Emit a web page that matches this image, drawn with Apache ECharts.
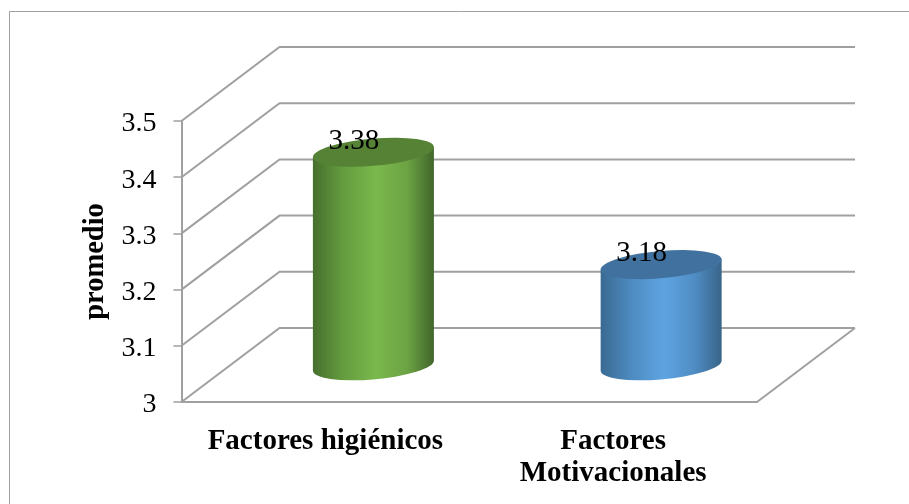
<!DOCTYPE html>
<html>
<head>
<meta charset="utf-8">
<style>html,body{margin:0;padding:0;background:#fff}#chart{width:909px;height:504px}</style>
<script src="https://cdn.jsdelivr.net/npm/echarts@6/dist/echarts.min.js"></script>
</head>
<body>
<div id="chart"></div>
<script>
// Chart values
const categories = ['Factores higiénicos', 'Factores\nMotivacionales'];
const averages = [3.38, 3.18];
const tickValues = [3, 3.1, 3.2, 3.3, 3.4, 3.5];
const axisTitle = 'promedio';

// Oblique projection of the 3D box (screen offset of the back wall)
const DEPTH_X = 98;
const DEPTH_Y = -74;
const GRID_COLOR = '#a0a0a0';
const SERIF = '"Liberation Serif", "Times New Roman", serif';

// Column look: side gradient stops and flat top colour
const columnLooks = [
  { top: '#558235', edge1: '#466f2d', mid1: '#649c3e', mid2: '#7ab84c', mid3: '#6ca344', edge2: '#41652a' },
  { top: '#41729f', edge1: '#396a92', mid1: '#4d8abf', mid2: '#5ea4e2', mid3: '#4f8cc3', edge2: '#386488' }
];

// Back wall and side wall rules, one per tick
function renderWall(params, api) {
  const cs = params.coordSys;
  const y = api.coord([0, api.value(1)])[1];
  const x0 = cs.x, x1 = cs.x + cs.width;
  const children = [{
    type: 'polyline',
    shape: { points: [[x0, y], [x0 + DEPTH_X, y + DEPTH_Y], [x1 + DEPTH_X, y + DEPTH_Y]] },
    style: { fill: 'none', stroke: GRID_COLOR, lineWidth: 2 }
  }];
  if (api.value(1) === tickValues[0]) {
    children.push({
      type: 'line',
      shape: { x1: x1, y1: y, x2: x1 + DEPTH_X, y2: y + DEPTH_Y },
      style: { stroke: GRID_COLOR, lineWidth: 2 }
    });
  }
  return { type: 'group', children: children };
}

// Cylinder standing mid-way into the floor, with a slightly tilted elliptical cap
function renderColumn(params, api) {
  const idx = api.value(0);
  const value = api.value(1);
  const look = columnLooks[idx];
  const base = api.coord([idx, tickValues[0]]);
  const head = api.coord([idx, value]);
  const cx = base[0] + DEPTH_X * 0.49;
  const by = base[1] + DEPTH_Y * 0.49;
  const ty = head[1] + DEPTH_Y * 0.49;
  const halfW = 60.5, skew = 5, rx = 60.7, ry = 13.6, tilt = -5;
  const lx = cx - halfW, rxp = cx + halfW;
  const body = 'M' + lx + ' ' + (ty + skew) +
    ' L' + lx + ' ' + (by + skew) +
    ' A' + rx + ' ' + ry + ' ' + tilt + ' 0 0 ' + rxp + ' ' + (by - skew) +
    ' L' + rxp + ' ' + (ty - skew) + ' Z';
  const cap = 'M' + lx + ' ' + (ty + skew) +
    ' A' + rx + ' ' + ry + ' ' + tilt + ' 1 1 ' + rxp + ' ' + (ty - skew) +
    ' A' + rx + ' ' + ry + ' ' + tilt + ' 1 1 ' + lx + ' ' + (ty + skew) + ' Z';
  return {
    type: 'group',
    children: [
      {
        type: 'path',
        shape: { pathData: body },
        style: {
          fill: {
            type: 'linear', x: 0, y: 0, x2: 1, y2: 0,
            colorStops: [
              { offset: 0, color: look.edge1 },
              { offset: 0.25, color: look.mid1 },
              { offset: 0.52, color: look.mid2 },
              { offset: 0.78, color: look.mid3 },
              { offset: 1, color: look.edge2 }
            ]
          }
        }
      },
      { type: 'path', shape: { pathData: cap }, style: { fill: look.top } },
      {
        type: 'text',
        x: cx - 19.5,
        y: ty - 11,
        style: {
          text: value.toFixed(2),
          font: '29px ' + SERIF,
          fill: '#000',
          align: 'center',
          verticalAlign: 'middle'
        }
      }
    ]
  };
}

const chart = echarts.init(document.getElementById('chart'), null, { renderer: 'canvas' });
chart.setOption({
  animation: false,
  backgroundColor: '#fff',
  graphic: [{
    type: 'rect',
    silent: true,
    shape: { x: 9.5, y: 11.5, width: 1000, height: 1000 },
    style: { fill: 'none', stroke: '#a0a0a0', lineWidth: 1 }
  }],
  grid: { left: 181.5, right: 152, top: 121, bottom: 102 },
  xAxis: {
    type: 'category',
    data: categories,
    axisLine: { lineStyle: { color: GRID_COLOR, width: 2 } },
    axisTick: { show: false },
    axisLabel: {
      color: '#000',
      fontFamily: SERIF,
      fontWeight: 'bold',
      fontSize: 29,
      lineHeight: 32,
      margin: 24,
      interval: 0
    }
  },
  yAxis: {
    type: 'value',
    min: 3,
    max: 3.5,
    interval: 0.1,
    name: axisTitle,
    nameLocation: 'middle',
    nameRotate: 90,
    nameGap: 70,
    nameTextStyle: { color: '#000', fontFamily: SERIF, fontWeight: 'bold', fontSize: 28.5 },
    axisLine: { show: true, lineStyle: { color: GRID_COLOR, width: 2 } },
    axisTick: { show: true, length: 8, lineStyle: { color: GRID_COLOR, width: 1.5 } },
    splitLine: { show: false },
    axisLabel: {
      formatter: '{t|{value}}',
      margin: 25,
      rich: {
        t: { color: '#000', fontFamily: SERIF, fontSize: 28, padding: [6, 0, 0, 0] }
      }
    }
  },
  series: [
    {
      type: 'custom',
      coordinateSystem: 'cartesian2d',
      renderItem: renderWall,
      data: tickValues.map(t => [0, t]),
      encode: { x: 0, y: 1 },
      z: 1,
      silent: true
    },
    {
      type: 'custom',
      coordinateSystem: 'cartesian2d',
      renderItem: renderColumn,
      data: averages.map((v, i) => [i, v]),
      encode: { x: 0, y: 1 },
      z: 5,
      silent: true
    }
  ]
});
</script>
</body>
</html>
